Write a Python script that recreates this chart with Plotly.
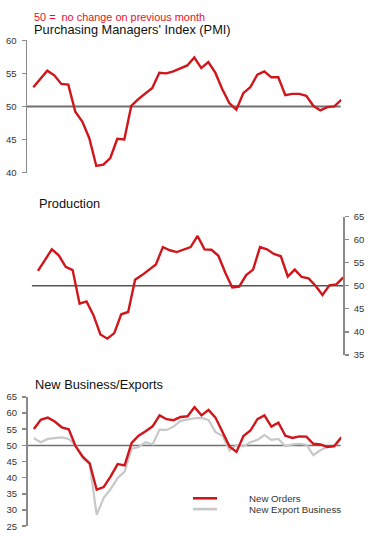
import plotly.graph_objects as go

months = list(range(45))

pmi = [52.9, 54.2, 55.4, 54.7, 53.4, 53.3, 49.2, 47.7, 45.2, 41.0, 41.2, 42.2, 45.1, 45.0,
       50.1, 51.1, 51.9, 52.8, 55.1, 55.0, 55.3, 55.7, 56.2, 57.4, 55.8, 56.7, 55.1, 52.6,
       50.5, 49.5, 52.0, 52.9, 54.8, 55.3, 54.4, 54.4, 51.7, 51.9, 51.9, 51.6, 50.1, 49.4,
       49.9, 50.0, 51.0]

production = [53.2, 55.7, 57.9, 56.6, 54.1, 53.4, 46.1, 46.6, 43.6, 39.4, 38.5, 39.7, 43.8, 44.3,
              51.3, 52.3, 53.5, 54.6, 58.4, 57.7, 57.3, 57.8, 58.4, 60.8, 57.9, 57.8, 56.5, 52.8,
              49.6, 49.8, 52.3, 53.5, 58.4, 57.9, 56.9, 56.4, 52.0, 53.5, 51.9, 51.6, 50.0, 48.0,
              50.1, 50.3, 51.8]

new_orders = [55.1, 57.9, 58.6, 57.4, 55.6, 55.0, 49.7, 46.5, 44.4, 36.3, 37.1, 40.4, 44.2, 43.8,
              50.8, 53.0, 54.4, 55.9, 59.3, 58.1, 57.8, 58.8, 59.0, 61.8, 59.3, 61.0, 58.6, 54.1,
              49.7, 48.0, 52.9, 54.6, 58.1, 59.3, 55.8, 57.0, 53.0, 52.3, 52.8, 52.7, 50.5, 50.3,
              49.5, 49.8, 52.5]

new_export = [52.2, 51.0, 52.0, 52.2, 52.5, 52.0, 50.0, 46.0, 44.2, 28.5, 33.8, 36.5, 39.9, 41.9,
              49.0, 49.5, 51.0, 50.3, 54.9, 54.8, 55.8, 57.6, 58.1, 58.4, 58.5, 57.9, 54.1, 53.0,
              48.5, 50.0, 49.7, 51.0, 51.7, 53.2, 51.7, 52.0, 49.7, 50.3, 50.5, 50.2, 47.0, 48.5,
              49.5, 49.7, 52.2]

top_ticks = [40, 45, 50, 55, 60]
mid_ticks = [35, 40, 45, 50, 55, 60, 65]
bot_ticks = [25, 30, 35, 40, 45, 50, 55, 60, 65]

RED = "#d0161b"
GREY = "#c8c8c8"
AX = "#8a8a8a"
W, H = 374, 542

fig = go.Figure()

fig.add_trace(go.Scatter(x=months, y=pmi, mode="lines", line=dict(color=RED, width=2.4),
                         xaxis="x", yaxis="y", showlegend=False, hoverinfo="skip"))
fig.add_trace(go.Scatter(x=months, y=production, mode="lines", line=dict(color=RED, width=2.4),
                         xaxis="x2", yaxis="y2", showlegend=False, hoverinfo="skip"))
fig.add_trace(go.Scatter(x=months, y=new_export, mode="lines", line=dict(color=GREY, width=2.2),
                         xaxis="x3", yaxis="y3", showlegend=False, hoverinfo="skip"))
fig.add_trace(go.Scatter(x=months, y=new_orders, mode="lines", line=dict(color=RED, width=2.4),
                         xaxis="x3", yaxis="y3", showlegend=False, hoverinfo="skip"))

def px_y(p):
    return (H - p) / H

def px_x(p):
    return p / W

FAM = "Liberation Sans, Arial, sans-serif"
tickfont = dict(family=FAM, size=9.5, color="#333333")

yax = dict(showgrid=False, zeroline=False, showline=True, linecolor=AX, linewidth=1.5,
           ticks="outside", ticklen=4, tickcolor=AX, tickwidth=1.5, tickfont=tickfont,
           ticklabelstandoff=3)

fig.update_layout(
    width=W, height=H,
    margin=dict(l=0, r=0, t=0, b=0),
    paper_bgcolor="white", plot_bgcolor="white",
    xaxis=dict(domain=[px_x(27), px_x(341.3)], range=[-0.9, 44], visible=False),
    xaxis2=dict(domain=[px_x(31.7), px_x(343.3)], range=[-0.9, 44], visible=False),
    xaxis3=dict(domain=[px_x(27.5), px_x(341.3)], range=[-0.9, 44], visible=False),
    yaxis=dict(domain=[px_y(170), px_y(35)], range=[40, 60], tickvals=top_ticks,
               anchor="x", side="left", **yax),
    yaxis2=dict(domain=[px_y(356), px_y(215)], range=[35, 65], tickvals=mid_ticks,
                anchor="x2", side="right", **yax),
    yaxis3=dict(domain=[px_y(531), px_y(399)], range=[25, 65], tickvals=bot_ticks,
                anchor="x3", side="left", **yax),
)

# 50 reference lines
fig.add_shape(type="line", xref="x", yref="y", x0=-0.9, x1=43.9, y0=50, y1=50,
              line=dict(color="#707070", width=2), layer="below")
fig.add_shape(type="line", xref="x2", yref="y2", x0=-0.9, x1=44, y0=50, y1=50,
              line=dict(color="#555555", width=1.5), layer="below")
fig.add_shape(type="line", xref="x3", yref="y3", x0=-0.9, x1=43.9, y0=50, y1=50,
              line=dict(color="#707070", width=1.5), layer="below")

font_title = dict(family=FAM, size=12.8, color="#111111")

fig.add_annotation(text="50 =  no change on previous month", xref="paper", yref="paper",
                   x=px_x(32), y=px_y(11), xanchor="left", yanchor="middle", showarrow=False,
                   font=dict(family=FAM, size=10.9, color="#e8102a"))
fig.add_annotation(text="Purchasing Managers' Index (PMI)", xref="paper", yref="paper",
                   x=px_x(32), y=px_y(24), xanchor="left", yanchor="middle", showarrow=False,
                   font=font_title)
fig.add_annotation(text="Production", xref="paper", yref="paper",
                   x=px_x(36.5), y=px_y(202), xanchor="left", yanchor="middle", showarrow=False,
                   font=font_title)
fig.add_annotation(text="New Business/Exports", xref="paper", yref="paper",
                   x=px_x(32.5), y=px_y(386), xanchor="left", yanchor="middle", showarrow=False,
                   font=font_title)

# legend
legend_items = [("New Orders", RED, 502.5), ("New Export Business", GREY, 513.5)]
for name, col, yy in legend_items:
    fig.add_shape(type="line", xref="paper", yref="paper", x0=px_x(193), x1=px_x(217),
                  y0=px_y(yy), y1=px_y(yy), line=dict(color=col, width=2.6))
    fig.add_annotation(text=name, xref="paper", yref="paper", x=px_x(246.5), y=px_y(yy),
                       xanchor="left", yanchor="middle", showarrow=False,
                       font=dict(family=FAM, size=9.7, color="#333333"))

fig.write_html("out.html", config={"displayModeBar": False, "staticPlot": True},
               post_script="document.body.style.margin='0';")
